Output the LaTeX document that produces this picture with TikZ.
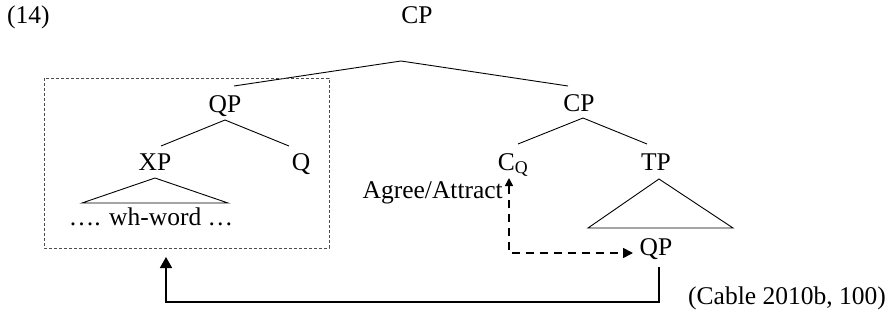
\documentclass[tikz,border=0pt]{standalone}
\usepackage{fontspec}
\setmainfont{Liberation Serif}
\usetikzlibrary{arrows.meta}
\begin{document}
\begin{tikzpicture}[x=1pt,y=-1pt,
  lbl/.style={inner sep=0pt,font=\fontsize{25.5}{30}\selectfont},
  branch/.style={line width=0.9pt},
  tri/.style={line width=0.9pt},
  movearrow/.style={line width=1.6pt,-{Triangle[length=11pt,width=12pt]}},
  agreearrow/.style={line width=1.6pt,dash pattern=on 8pt off 6pt,
     {Triangle[length=8pt,width=8pt]}-{Triangle[length=10pt,width=10pt]}},
  boxline/.style={line width=0.8pt,draw=black!70,dash pattern=on 3pt off 2pt}]
\useasboundingbox (0,0) rectangle (890,321);
% labels
\node[lbl,anchor=base west] (ex) at (7,24) {(14)};
\node[lbl,anchor=base] (cptop) at (417,24) {CP};
\node[lbl,anchor=base] (qpL) at (225,112) {QP};
\node[lbl,anchor=base] (xp) at (155,170) {XP};
\node[lbl,anchor=base] (q) at (301,170) {Q};
\node[lbl,anchor=base] (wh) at (151,225) {…. wh-word …};
\node[lbl,anchor=base] (cpR) at (579,111) {CP};
\node[lbl,anchor=base] (cq) at (513,170) {C\textsubscript{Q}};
\node[lbl,anchor=base] (tp) at (656,170) {TP};
\node[lbl,anchor=base] (qpR) at (656,255) {QP};
\node[lbl,anchor=base east] (agree) at (503,198) {Agree/Attract};
\node[lbl,anchor=base west] (cite) at (688,304) {(Cable 2010b, 100)};
% branch points
\coordinate (a0) at (401,61);
\coordinate (a0l) at (234,86);
\coordinate (a0r) at (568,86);
\coordinate (a1) at (225,120);
\coordinate (a1l) at (161,146);
\coordinate (a1r) at (289,146);
\coordinate (a2) at (583,118);
\coordinate (a2l) at (518,144);
\coordinate (a2r) at (647,144);
\draw[branch] (a0l) -- (a0) -- (a0r);
\draw[branch] (a1l) -- (a1) -- (a1r);
\draw[branch] (a2l) -- (a2) -- (a2r);
% triangles
\coordinate (t1) at (155,178);
\coordinate (t1l) at (82,203);
\coordinate (t1r) at (228,203);
\draw[tri] (t1l) -- (t1) -- (t1r) -- cycle;
\coordinate (t2) at (659,179);
\coordinate (t2l) at (588,228);
\coordinate (t2r) at (733,228);
\draw[tri] (t2l) -- (t2) -- (t2r) -- cycle;
% dotted box
\coordinate (b1) at (44,78);
\coordinate (b2) at (329,248);
\draw[boxline] (b1) rectangle (b2);
% movement arrow
\coordinate (qpRb) at (659,267);
\coordinate (boxtip) at (166,257);
\draw[movearrow] (qpRb) -- ++(0,35) -| (boxtip);
% agree arrow
\coordinate (cqtip) at (509,178);
\coordinate (qptip) at (633,253);
\draw[agreearrow] (cqtip) |- (qptip);
\end{tikzpicture}
\end{document}
